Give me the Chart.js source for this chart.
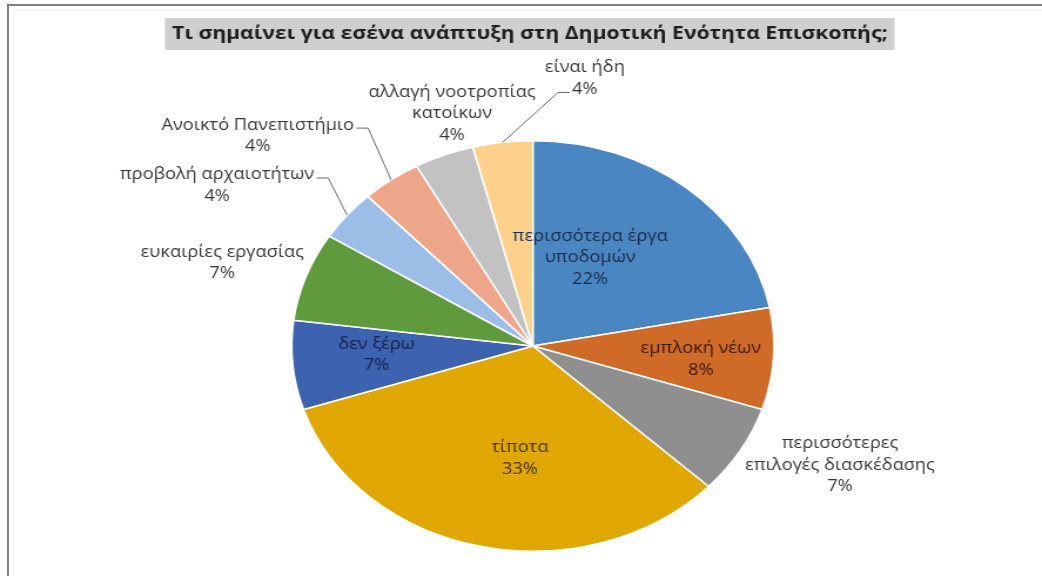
<!DOCTYPE html>
<html>
<head>
<meta charset="utf-8">
<script src="https://cdn.jsdelivr.net/npm/chart.js@4.4.1/dist/chart.umd.min.js"></script>
<style>
  html, body { margin: 0; padding: 0; background: #fff; }
  #frame { position: absolute; left: 7px; top: 4px; width: 1040px; height: 580px;
           border-top: 2px solid #7f7f7f; border-left: 2px solid #7f7f7f; }
  #inner { position: absolute; left: 13px; top: 10px; width: 1040px; height: 580px;
           border-top: 1px solid #f0f0f0; border-left: 1px solid #f0f0f0; }
  /* the original picture is stretched sideways, so the chart is drawn narrow and widened */
  #wrap { position: absolute; left: 0; top: 0; width: 887px; height: 576px;
          transform: scaleX(1.1747); transform-origin: 0 0; }
</style>
</head>
<body>
<div id="frame"></div>
<div id="inner"></div>
<div id="wrap"><canvas id="pie" width="887" height="576"></canvas></div>
<script>
const chartTitle = "Τι σημαίνει για εσένα ανάπτυξη στη Δημοτική Ενότητα Επισκοπής;";
const categories = [
  ["περισσότερα έργα", "υποδομών"],
  ["εμπλοκή νέων"],
  ["περισσότερες", "επιλογές διασκέδασης"],
  ["τίποτα"],
  ["δεν ξέρω"],
  ["ευκαιρίες εργασίας"],
  ["προβολή αρχαιοτήτων"],
  ["Ανοικτό Πανεπιστήμιο"],
  ["αλλαγή νοοτροπίας", "κατοίκων"],
  ["είναι ήδη"]
];
const shares = [22, 8, 7, 33, 7, 7, 4, 4, 4, 4];
const sliceColors = ["#4a87c2", "#d06a27", "#8f8f8f", "#dfa700", "#3d62b0",
                     "#5f9a3c", "#9cbde6", "#eea68a", "#c2c2c2", "#fdd08b"];
const labelColors = ["#1a2b48", "#3a1804", "#363636", "#433200", "#132246",
                     "#363636", "#363636", "#363636", "#363636", "#363636"];

// label placement: angle offset (deg) from slice middle, distance as part of radius
const labelPlace = [
  { da: -10.6, r: 0.49 }, { da: 1.9, r: 0.70 }, { da: -6.1, r: 1.40 },
  { da: -7.0, r: 0.55 }, { da: 1.5, r: 0.65 }, { da: -2.4, r: 1.35 },
  { da: -8.8, r: 1.525 }, { da: -12.1, r: 1.533 }, { da: 5.1, r: 1.18 },
  { da: 16.6, r: 1.32 }
];
// leader lines: which text line they touch and on which side
const leaders = [null, null, null, null, null, null,
                 { line: 0, side: 1 }, { line: 0, side: 1 }, null, { line: 1, side: -1 }];

const LABEL_FONT = "15.5px 'Open Sans', sans-serif";
const LINE_H = 21.5;

const decorPlugin = {
  id: "decor",
  beforeDraw(chart) {
    const ctx = chart.ctx;
    ctx.save();
    ctx.fillStyle = "#cfcfcf";
    ctx.fillRect(140.5, 18, 621, 32);
    ctx.fillStyle = "#1e1e1e";
    ctx.font = "bold 18px 'Open Sans', sans-serif";
    ctx.textAlign = "center";
    ctx.textBaseline = "middle";
    ctx.fillText(chartTitle, 451, 34);
    ctx.restore();
  },
  afterDatasetsDraw(chart) {
    const ctx = chart.ctx;
    const arcs = chart.getDatasetMeta(0).data;
    ctx.save();
    ctx.font = LABEL_FONT;
    ctx.textAlign = "center";
    ctx.textBaseline = "middle";
    arcs.forEach((arc, i) => {
      const p = arc.getProps(["x", "y", "startAngle", "endAngle", "outerRadius"], true);
      const mid = (p.startAngle + p.endAngle) / 2;
      const a = mid + labelPlace[i].da * Math.PI / 180;
      const cx = p.x + Math.cos(a) * p.outerRadius * labelPlace[i].r;
      const cy = p.y + Math.sin(a) * p.outerRadius * labelPlace[i].r;
      const lines = categories[i].concat([shares[i] + "%"]);
      const top = cy - (lines.length - 1) * LINE_H / 2;
      ctx.fillStyle = labelColors[i];
      lines.forEach((t, j) => ctx.fillText(t, cx, top + j * LINE_H));

      const ld = leaders[i];
      if (ld) {
        const w = ctx.measureText(lines[ld.line]).width;
        const ly = top + ld.line * LINE_H + 3;
        const ex = cx + ld.side * (w / 2 + 2);
        const elbow = ex + ld.side * 10;
        const px = p.x + Math.cos(mid) * p.outerRadius;
        const py = p.y + Math.sin(mid) * p.outerRadius;
        ctx.strokeStyle = "#595959";
        ctx.lineWidth = 0.9;
        ctx.beginPath();
        ctx.moveTo(ex, ly);
        ctx.lineTo(elbow, ly);
        ctx.lineTo(px, py);
        ctx.stroke();
      }
    });
    ctx.restore();
  }
};

new Chart(document.getElementById("pie"), {
  type: "pie",
  data: {
    labels: categories.map(c => c.join(" ")),
    datasets: [{
      data: shares,
      backgroundColor: sliceColors,
      borderColor: "#ffffff",
      borderWidth: 1.5
    }]
  },
  options: {
    responsive: false,
    animation: false,
    layout: { padding: { top: 140, bottom: 24, left: 247.6, right: 227.4 } },
    plugins: {
      legend: { display: false },
      title: { display: false },
      tooltip: { enabled: false }
    }
  },
  plugins: [decorPlugin]
});
</script>
</body>
</html>
